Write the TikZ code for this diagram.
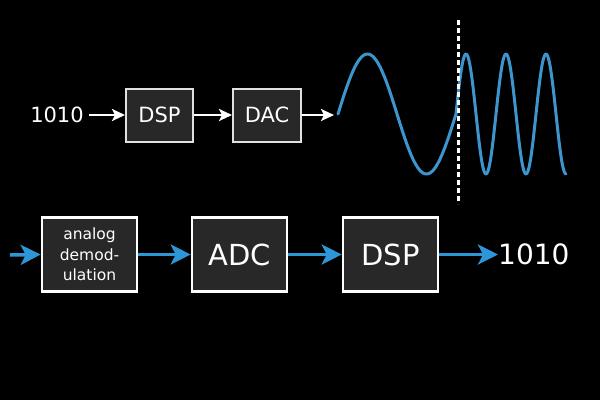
\documentclass[tikz,border=0pt]{standalone}
\usepackage{fontspec}
\setmainfont{DejaVu Sans}
\usetikzlibrary{arrows.meta}
\definecolor{boxgray}{RGB}{40,40,40}
\definecolor{rimgray}{RGB}{225,225,225}
\definecolor{sigblue}{RGB}{45,150,215}
\definecolor{waveblue}{RGB}{60,150,205}
\tikzset{
  every node/.style={text=white},
  block/.style={rectangle, draw=white, fill=boxgray, line width=2.6pt,
    inner sep=0pt, minimum width=95pt, minimum height=74pt,
    font=\fontsize{29}{32}\selectfont},
  small block/.style={block, draw=rimgray, line width=2pt,
    minimum width=67pt, minimum height=53pt,
    font=\fontsize{21}{24}\selectfont},
  label text/.style={inner sep=0pt},
  white arrow/.style={draw=white, line width=2.5pt,
    -{Stealth[length=13pt, width=12pt, inset=3pt]}},
  blue arrow/.style={draw=sigblue, line width=3.5pt,
    -{Stealth[length=20pt, width=20pt, inset=5pt]}},
  wave/.style={draw=waveblue, line width=3pt, line cap=round, line join=round},
  cut/.style={draw=white, line width=3pt, dash pattern=on 5pt off 3pt}
}

\begin{document}
\begin{tikzpicture}[x=1pt, y=-1pt]
  \fill[black] (0,0) rectangle (600,400);
  \useasboundingbox (0,0) rectangle (600,400);

  % upper chain
  \node[label text, font=\fontsize{21}{24}\selectfont] (bitsin) at (57,115) {1010};
  \node[small block] (dsptop) at (159.5,115) {DSP};
  \node[small block, minimum width=68pt] (dac) at (267,115) {DAC};
  \coordinate (wavein) at (334,115);
  \draw[white arrow] ([xshift=5pt]bitsin.east) -- (dsptop.west);
  \draw[white arrow] (dsptop.east) -- (dac.west);
  \draw[white arrow] (dac.east) -- (wavein);

  % signal
  \draw[wave] plot[domain=0:118, samples=80] ({338+\x},{114-60*sin(\x/118*360)});
  \draw[wave] plot[domain=0:110, samples=120] ({456+\x},{114-60*sin(\x*9)});
  \coordinate (cuttop) at (458,20);
  \coordinate (cutbot) at (458,204);
  \draw[cut] (cuttop) -- (cutbot);

  % lower chain
  \coordinate (rfin) at (10,255);
  \node[block, font=\fontsize{15.5}{20.5}\selectfont, align=center]
    (demod) at (89.5,254.5) {analog\\demod-\\ulation};
  \node[block] (adc) at (239.5,254.5) {ADC};
  \node[block] (dspbot) at (390.5,254.5) {DSP};
  \node[label text, font=\fontsize{28}{32}\selectfont, anchor=west]
    (bitsout) at (498,254.5) {1010};
  \draw[blue arrow] (rfin) -- (demod.west);
  \draw[blue arrow] (demod.east) -- (adc.west);
  \draw[blue arrow] (adc.east) -- (dspbot.west);
  \draw[blue arrow] (dspbot.east) -- (bitsout.west);
\end{tikzpicture}
\end{document}
